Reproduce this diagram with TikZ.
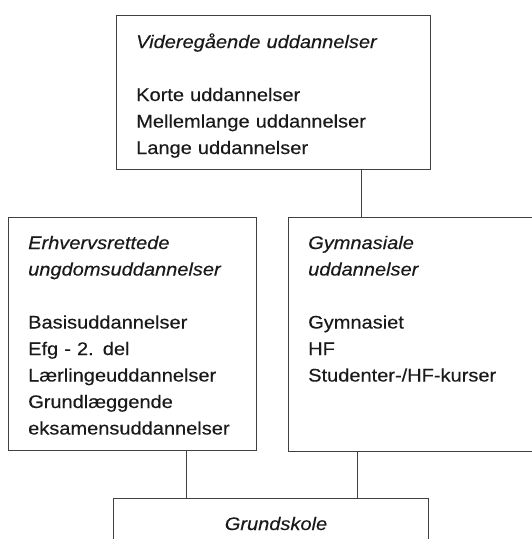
\documentclass[tikz,border=0pt]{standalone}
\usepackage{fontspec}
\setmainfont{Liberation Sans}[FakeStretch=1.1,FakeBold=0.3]
\definecolor{linegray}{HTML}{404040}
\definecolor{textdark}{HTML}{1A1A1A}
\begin{document}
\begin{tikzpicture}[x=1pt,y=-1pt,
  box/.style={draw=linegray, line width=1pt, inner sep=0pt, anchor=north west, rectangle},
  txt/.style={anchor=base west, inner sep=0pt, text width=300pt, align=left, text=textdark,
    font=\fontsize{18.2}{26.5}\selectfont},
  conn/.style={draw=linegray, line width=1pt}]
\useasboundingbox (0,0) rectangle (532,539);
\clip (0,0) rectangle (532,539);
\node[box, minimum width=314pt, minimum height=154pt] (top) at (116,15) {};
\node[box, minimum width=248pt, minimum height=233pt] (left) at (8,217) {};
\node[box, minimum width=270pt, minimum height=234pt] (right) at (288,217) {};
\node[box, minimum width=315pt, minimum height=80pt] (bottom) at (113,498) {};
\coordinate (c1) at (361,0);
\coordinate (c2) at (186,0);
\coordinate (c3) at (357,0);
\draw[conn] (c1 |- top.south) -- (c1 |- right.north);
\draw[conn] (c2 |- left.south) -- (c2 |- bottom.north);
\draw[conn] (c3 |- right.south) -- (c3 |- bottom.north);
\node[txt] (ttop) at (136,48) {\textit{Videregående uddannelser}\\[26.5pt]
Korte uddannelser\\ Mellemlange uddannelser\\ Lange uddannelser};
\node[txt] (tleft) at (28,249) {\textit{Erhvervsrettede}\\ \textit{ungdomsuddannelser}\\[26.5pt]
Basisuddannelser\\ Efg - 2. del\\ Lærlingeuddannelser\\ Grundlæggende\\ eksamensuddannelser};
\node[txt] (tright) at (308,249) {\textit{Gymnasiale}\\ \textit{uddannelser}\\[26.5pt]
Gymnasiet\\ HF\\ Studenter-/HF-kurser};
\node[anchor=base, inner sep=0pt, text=textdark, font=\fontsize{18.2}{26.5}\selectfont\itshape] (tbottom) at (276,530) {Grundskole};
\end{tikzpicture}
\end{document}
